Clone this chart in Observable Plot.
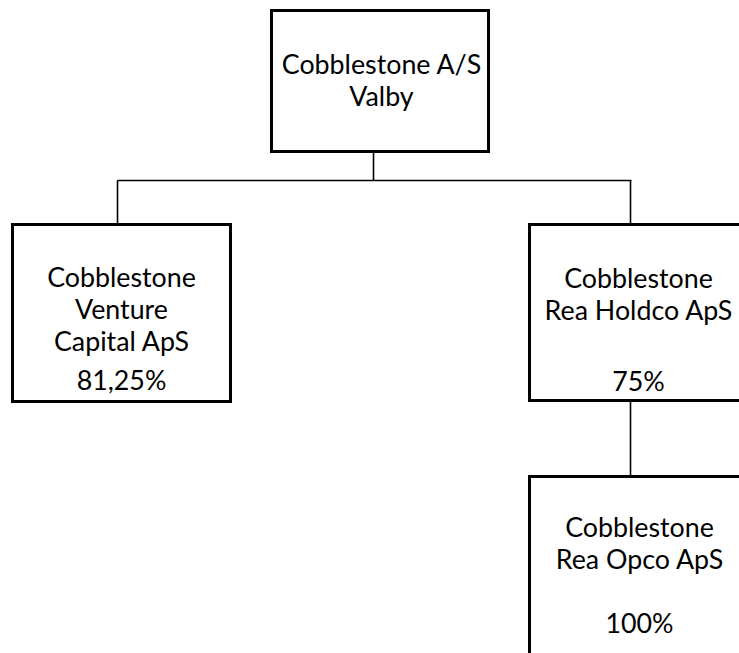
<!DOCTYPE html>
<html>
<head>
<meta charset="utf-8">
<script src="https://cdn.jsdelivr.net/npm/d3@7"></script>
<script src="https://cdn.jsdelivr.net/npm/@observablehq/plot@0.6"></script>
<style>
  html, body { margin: 0; padding: 0; background: #fff; overflow: hidden; }
  #chart svg { display: block; }
</style>
</head>
<body>
<div id="chart"></div>
<script>
// Entities (org chart content)
const entityNames = ["Cobblestone A/S", "Cobblestone Venture Capital ApS", "Cobblestone Rea Holdco ApS", "Cobblestone Rea Opco ApS"];
const labelLines = [
  ["Cobblestone A/S", "Valby"],
  ["Cobblestone", "Venture", "Capital ApS", "81,25%"],
  ["Cobblestone", "Rea Holdco ApS", "75%"],
  ["Cobblestone", "Rea Opco ApS", "100%"]
];
const ownership = ["", "81,25%", "75%", "100%"];
const parentIndex = [null, 0, 0, 2];

// Layout (chart units)
const boxLeft   = [271.5, 12.5, 529.5, 529.5];
const boxRight  = [488.5, 230.5, 745, 745];
const boxTop    = [10.5, 224.5, 224.5, 476.5];
const boxBottom = [151.5, 401.5, 400.5, 665];
const labelX    = [381, 121, 638, 639];
const lineBaselines = [
  [73, 105],
  [286, 318, 350, 389],
  [287, 319, 390],
  [536, 568, 632]
];

// Connector segments
const connectors = [
  {x1: 373, y1: 152, x2: 373, y2: 180},
  {x1: 117, y1: 180, x2: 631, y2: 180},
  {x1: 117, y1: 180, x2: 117, y2: 224},
  {x1: 630, y1: 180, x2: 630, y2: 224},
  {x1: 630, y1: 401, x2: 630, y2: 476}
];

const boxes = entityNames.map((name, i) => ({
  name, parent: parentIndex[i],
  x1: boxLeft[i], x2: boxRight[i], y1: boxTop[i], y2: boxBottom[i]
}));
const lines = labelLines.flatMap((ls, i) => ls.map((text, j) => ({
  box: entityNames[i], text, x: labelX[i], y: lineBaselines[i][j]
})));

const chart = Plot.plot({
  width: 739,
  height: 653,
  margin: 0,
  x: {domain: [0, 739], range: [0, 739], axis: null},
  y: {domain: [0, 653], range: [0, 653], axis: null},
  style: {fontFamily: "Lato, 'Open Sans', sans-serif", background: "#fff"},
  marks: [
    Plot.link(connectors, {x1: "x1", y1: "y1", x2: "x2", y2: "y2", stroke: "#000", strokeWidth: 1.6, clip: true}),
    Plot.rect(boxes, {x1: "x1", x2: "x2", y1: "y1", y2: "y2", fill: "#fff", stroke: "#000", strokeWidth: 3, clip: true}),
    Plot.text(lines, {x: "x", y: "y", text: "text", lineAnchor: "bottom", textAnchor: "middle", fontSize: 26.8, fill: "#000", clip: true})
  ]
});
document.getElementById("chart").append(chart);
</script>
</body>
</html>
